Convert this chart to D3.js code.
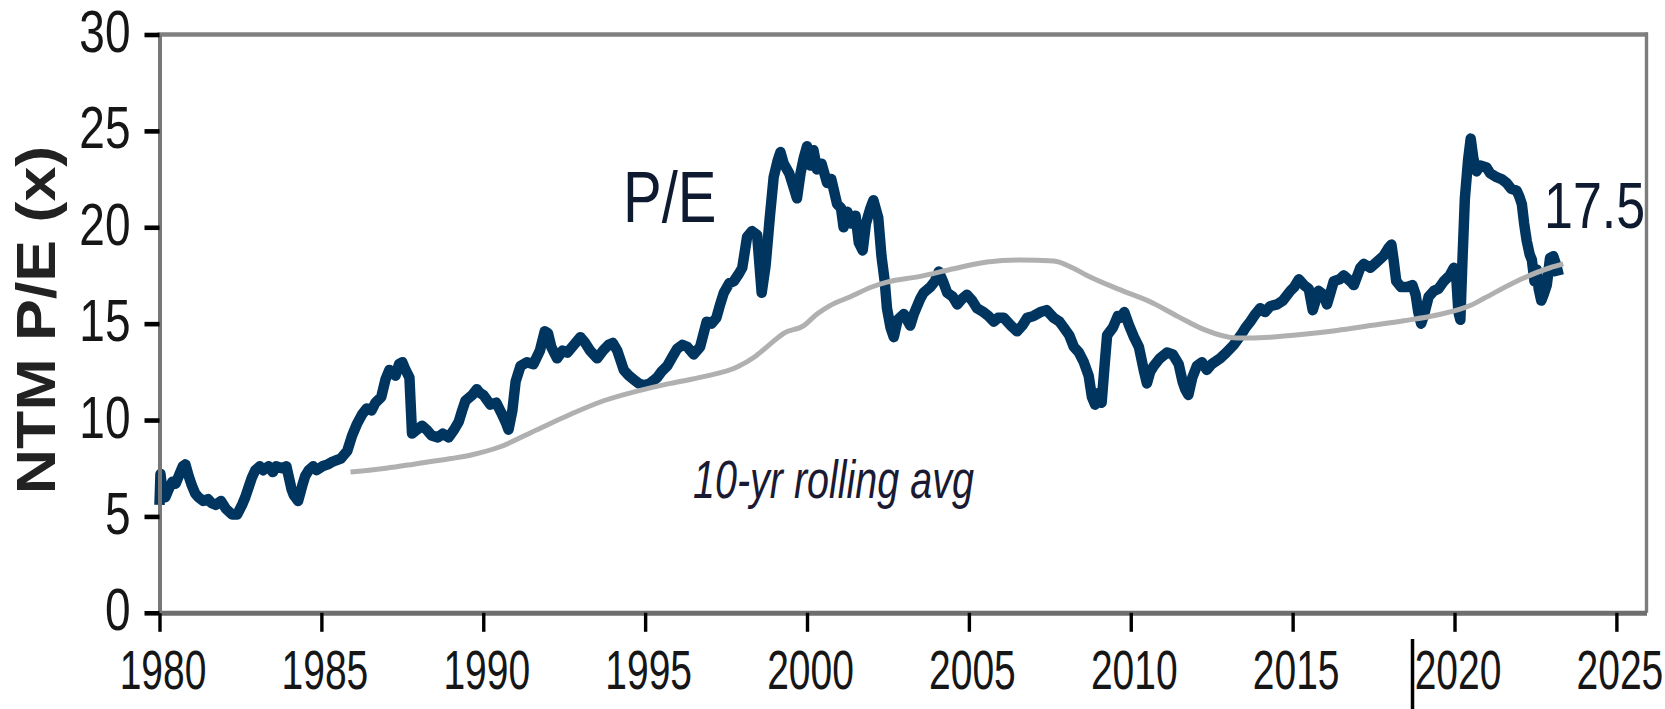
<!DOCTYPE html>
<html><head><meta charset="utf-8">
<script src="https://cdn.jsdelivr.net/npm/d3@7"></script>
<style>html,body{margin:0;padding:0;background:#fff;overflow:hidden}</style>
</head><body>
<svg id="chart" width="1665" height="709"></svg>
<script>
// ---- data ----
const peYears = [1980.00,1980.03,1980.10,1980.18,1980.28,1980.40,1980.50,1980.62,1980.72,1980.80,1980.90,1981.00,1981.10,1981.20,1981.35,1981.50,1981.60,1981.73,1981.90,1982.05,1982.24,1982.40,1982.55,1982.65,1982.75,1982.85,1982.96,1983.10,1983.20,1983.37,1983.50,1983.60,1983.79,1983.92,1984.00,1984.08,1984.15,1984.28,1984.41,1984.50,1984.61,1984.75,1984.85,1985.03,1985.20,1985.30,1985.44,1985.60,1985.80,1985.95,1986.10,1986.26,1986.40,1986.55,1986.67,1986.85,1986.98,1987.10,1987.29,1987.40,1987.50,1987.60,1987.72,1987.80,1987.95,1988.11,1988.25,1988.40,1988.60,1988.75,1988.93,1989.10,1989.24,1989.35,1989.45,1989.66,1989.80,1989.90,1990.00,1990.22,1990.40,1990.55,1990.69,1990.78,1990.90,1991.00,1991.15,1991.35,1991.55,1991.75,1991.90,1992.00,1992.10,1992.28,1992.45,1992.60,1992.80,1993.00,1993.15,1993.30,1993.52,1993.70,1993.87,1994.00,1994.14,1994.34,1994.50,1994.65,1994.80,1994.96,1995.15,1995.37,1995.50,1995.68,1995.85,1995.99,1996.15,1996.30,1996.50,1996.70,1996.90,1997.05,1997.20,1997.30,1997.43,1997.60,1997.74,1997.90,1998.00,1998.15,1998.30,1998.46,1998.60,1998.72,1998.85,1998.97,1999.10,1999.18,1999.28,1999.45,1999.60,1999.69,1999.80,1999.90,2000.00,2000.10,2000.20,2000.31,2000.45,2000.62,2000.75,2000.93,2001.05,2001.13,2001.25,2001.35,2001.50,2001.60,2001.72,2001.82,2001.96,2002.05,2002.20,2002.30,2002.40,2002.47,2002.58,2002.68,2002.80,2002.99,2003.19,2003.30,2003.50,2003.60,2003.81,2003.95,2004.07,2004.20,2004.33,2004.50,2004.64,2004.80,2004.94,2005.10,2005.25,2005.45,2005.60,2005.77,2005.90,2006.08,2006.30,2006.49,2006.65,2006.80,2007.00,2007.21,2007.40,2007.62,2007.80,2007.93,2008.10,2008.24,2008.40,2008.55,2008.70,2008.80,2008.90,2009.00,2009.10,2009.20,2009.27,2009.45,2009.60,2009.68,2009.80,2009.95,2010.10,2010.25,2010.40,2010.50,2010.60,2010.71,2010.90,2011.12,2011.30,2011.48,2011.60,2011.68,2011.78,2011.90,2012.04,2012.20,2012.35,2012.50,2012.76,2012.95,2013.18,2013.40,2013.55,2013.69,2013.85,2014.00,2014.15,2014.30,2014.52,2014.70,2014.93,2015.05,2015.19,2015.35,2015.50,2015.62,2015.80,2015.95,2016.06,2016.15,2016.27,2016.45,2016.58,2016.78,2016.89,2017.09,2017.20,2017.40,2017.60,2017.80,2017.95,2018.05,2018.12,2018.20,2018.35,2018.54,2018.70,2018.80,2018.88,2018.97,2019.05,2019.20,2019.36,2019.50,2019.67,2019.85,2019.98,2020.05,2020.12,2020.18,2020.25,2020.32,2020.42,2020.50,2020.58,2020.68,2020.80,2020.99,2021.10,2021.30,2021.45,2021.61,2021.75,2021.92,2022.00,2022.08,2022.15,2022.23,2022.32,2022.39,2022.47,2022.54,2022.60,2022.68,2022.75,2022.85,2022.95,2023.05,2023.15,2023.22];
const peValues = [5.6,7.2,6.2,6.0,6.4,6.8,6.7,7.2,7.6,7.7,7.1,6.6,6.2,6.0,5.8,5.9,5.7,5.6,5.8,5.4,5.1,5.1,5.6,6.0,6.5,7.0,7.4,7.6,7.4,7.6,7.3,7.6,7.5,7.6,7.0,6.4,6.1,5.8,6.6,7.1,7.4,7.6,7.4,7.6,7.7,7.8,7.9,8.0,8.4,9.2,9.8,10.3,10.6,10.5,10.9,11.2,12.1,12.6,12.3,12.9,13.0,12.6,12.2,9.3,9.5,9.7,9.5,9.2,9.1,9.3,9.1,9.5,9.9,10.5,11.0,11.3,11.6,11.4,11.3,10.8,10.9,10.4,9.9,9.5,10.5,12.0,12.8,13.0,12.9,13.6,14.6,14.5,13.8,13.2,13.6,13.5,13.9,14.3,14.0,13.6,13.2,13.6,13.9,14.0,13.6,12.6,12.3,12.1,11.9,11.8,11.9,12.2,12.5,12.8,13.3,13.7,13.9,13.8,13.4,13.8,15.1,15.0,15.3,15.9,16.6,17.1,17.2,17.6,17.9,19.5,19.8,19.6,16.6,18.0,20.5,22.6,23.5,23.9,23.3,22.8,22.0,21.5,22.8,23.6,24.2,23.2,24.0,23.0,23.3,22.3,22.5,21.2,21.0,20.0,20.8,20.2,20.6,19.2,18.8,20.2,21.0,21.4,20.5,18.5,17.2,15.8,14.8,14.3,15.2,15.5,14.9,15.5,16.3,16.6,16.9,17.2,17.7,17.2,16.6,16.4,16.0,16.3,16.5,16.2,15.8,15.6,15.4,15.1,15.3,15.3,14.9,14.6,14.9,15.3,15.4,15.6,15.7,15.3,15.1,14.8,14.4,13.8,13.5,13.0,12.3,11.2,10.8,11.4,10.9,13.0,14.4,14.8,15.4,15.3,15.6,14.9,14.3,13.8,12.6,11.9,12.5,12.8,13.2,13.5,13.4,12.9,12.0,11.6,11.3,12.2,12.8,13.0,12.6,12.9,13.2,13.5,13.9,14.4,14.8,15.1,15.5,15.8,15.6,15.9,16.0,16.2,16.7,16.9,17.3,17.0,16.8,15.7,16.7,16.5,16.0,16.5,17.2,17.3,17.5,17.2,17.0,17.9,18.1,17.9,18.2,18.5,18.9,19.1,18.3,17.2,16.9,16.9,17.0,16.5,15.6,15.0,15.4,16.4,16.7,16.8,17.2,17.5,17.9,17.5,15.6,15.2,18.5,21.5,23.5,24.6,23.6,22.9,23.2,23.1,22.8,22.6,22.5,22.3,22.0,21.9,21.6,21.2,20.2,19.3,18.6,18.3,17.2,17.8,16.8,16.2,16.5,17.0,18.4,18.5,18.0,17.5];
const avgYears = [1985.9,1987.0,1988.0,1989.0,1989.66,1990.5,1991.66,1992.7,1993.72,1994.75,1995.78,1996.81,1997.84,1998.4,1998.87,1999.28,1999.9,2000.31,2000.67,2001.34,2002.0,2002.47,2003.5,2004.53,2005.56,2006.59,2007.62,2008.2,2008.65,2009.68,2010.71,2011.48,2012.25,2013.28,2014.31,2015.34,2016.37,2017.4,2018.43,2019.46,2020.5,2020.9,2021.92,2022.95,2023.36];
const avgValues = [7.3,7.5,7.75,8.0,8.2,8.6,9.5,10.3,11.0,11.5,11.9,12.25,12.75,13.3,13.95,14.5,14.9,15.5,15.9,16.4,16.9,17.15,17.45,17.85,18.2,18.3,18.25,17.9,17.5,16.75,16.05,15.35,14.7,14.25,14.3,14.45,14.65,14.9,15.15,15.45,15.95,16.3,17.2,17.9,18.1];
const xTicks = [1980,1985,1990,1995,2000,2005,2010,2015,2020,2025];
const yTicks = [0,5,10,15,20,25,30];
const yTitle = "NTM P/E (x)";
const seriesLabel = "P/E";
const avgLabel = "10-yr rolling avg";
const lastLabel = "17.5";

// ---- drawing ----
const svg = d3.select("#chart");
const xMax = 2025.93;
const x = d3.scaleLinear().domain([1980, xMax]).range([159.5, 1646.5]);
const y = d3.scaleLinear().domain([0, 30]).range([612.8, 34.5]);
const FONT = "'Liberation Sans', Arial, Helvetica, sans-serif";

// frame top and right
svg.append("line").attr("x1", x(1980) - 2).attr("x2", x(xMax) + 1.5)
  .attr("y1", y(30)).attr("y2", y(30)).attr("stroke", "#808080").attr("stroke-width", 4.3);
svg.append("line").attr("x1", x(xMax)).attr("x2", x(xMax))
  .attr("y1", y(30) - 2).attr("y2", y(0)).attr("stroke", "#7d7d7d").attr("stroke-width", 3.4);

// P/E line
const peLine = d3.line().x((d, i) => x(peYears[i])).y(d => y(d)).curve(d3.curveLinear);
svg.append("path").datum(peValues).attr("d", peLine)
  .attr("fill", "none").attr("stroke", "#003560").attr("stroke-width", 10.5)
  .attr("stroke-linejoin", "round").attr("stroke-linecap", "butt");

// rolling avg line
const avgLine = d3.line().x((d, i) => x(avgYears[i])).y(d => y(d)).curve(d3.curveMonotoneX);
svg.append("path").datum(avgValues).attr("d", avgLine)
  .attr("fill", "none").attr("stroke", "#b0b0b0").attr("stroke-width", 5)
  .attr("stroke-linejoin", "round");

// x axis
const gx = svg.append("g").attr("transform", `translate(0,${y(0)})`)
  .call(d3.axisBottom(x).tickValues(xTicks).tickSize(19).tickSizeOuter(0).tickFormat(d3.format("d")));
gx.select(".domain").attr("stroke", "#6e6e6e").attr("stroke-width", 5);
gx.selectAll(".tick line").attr("stroke", "#000").attr("stroke-width", 3.4);
gx.selectAll(".tick text").attr("y", 0).attr("dy", null)
  .attr("transform", "translate(3,76) scale(1,1.42)")
  .attr("font-family", FONT).attr("font-size", 39).attr("fill", "#161616");

// y axis
const gy = svg.append("g").attr("transform", `translate(${x(1980)},0)`)
  .call(d3.axisLeft(y).tickValues(yTicks).tickSize(15).tickSizeOuter(0));
gy.select(".domain").attr("stroke", "#777").attr("stroke-width", 4);
gy.selectAll(".tick line").attr("stroke", "#000").attr("stroke-width", 4.6);
gy.selectAll(".tick text").attr("x", 0).attr("dy", null).attr("y", 0)
  .attr("text-anchor", "end")
  .attr("transform", "translate(-29,17) scale(1,1.28)")
  .attr("font-family", FONT).attr("font-size", 46).attr("fill", "#161616");

// y-axis title
svg.append("text").text(yTitle)
  .attr("transform", "translate(55,320) rotate(-90) scale(1.12,1)")
  .attr("text-anchor", "middle").attr("font-family", FONT)
  .attr("font-weight", "bold").attr("font-size", 56).attr("fill", "#222");

// annotations
svg.append("text").text(seriesLabel)
  .attr("transform", "translate(623,222) scale(1,1.26)")
  .attr("font-family", FONT).attr("font-size", 58).attr("fill", "#0e1a30");
svg.append("text").text(lastLabel)
  .attr("transform", "translate(1544,228) scale(1,1.24)")
  .attr("font-family", FONT).attr("font-size", 52).attr("fill", "#0e1a30");
svg.append("text").text(avgLabel)
  .attr("transform", "translate(693,498) scale(1,1.34)")
  .attr("font-family", FONT).attr("font-style", "italic").attr("font-size", 39.5).attr("fill", "#1a1a33");

// small cursor mark beside the 2020 label in the original image
svg.append("line").attr("x1", x(2020) - 42).attr("x2", x(2020) - 42)
  .attr("y1", 639).attr("y2", 709).attr("stroke", "#000").attr("stroke-width", 3.5);
</script>
</body></html>
